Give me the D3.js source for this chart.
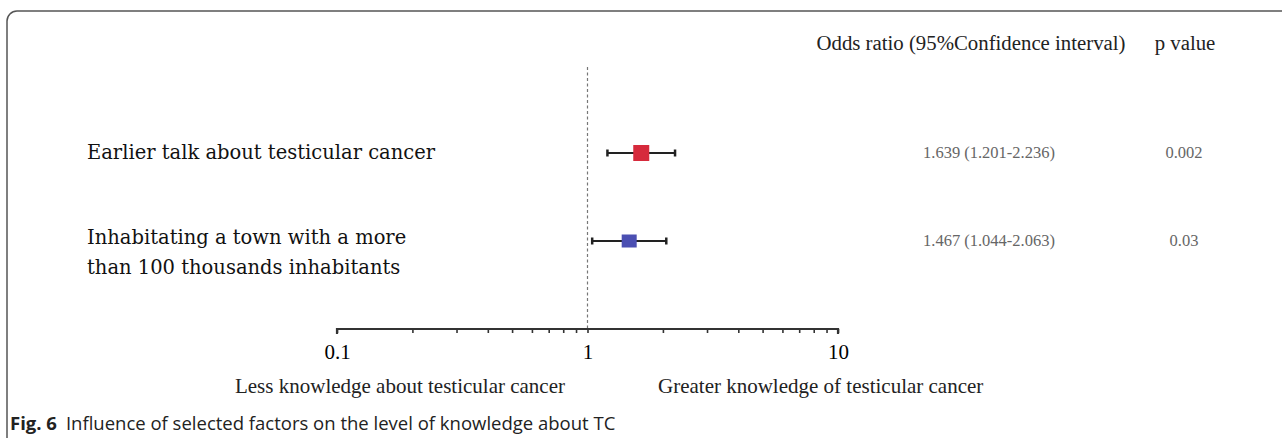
<!DOCTYPE html>
<html>

<head>
  <title>Forest plot</title>
  <script src="https://cdn.jsdelivr.net/npm/d3@7"></script>
  <style>
    body { margin: 0; background: #fff; }
  </style>
</head>

<body>
  <svg width="1282" height="438" id="mainsvg"></svg>
  <script>
    // data
    const factorLines = [
      ['Earlier talk about testicular cancer'],
      ['Inhabitating a town with a more', 'than 100 thousands inhabitants']
    ];
    const oddsRatios = [1.639, 1.467];
    const ciLower = [1.201, 1.044];
    const ciUpper = [2.236, 2.063];
    const pValues = ['0.002', '0.03'];
    const markerColors = ['#d62a3c', '#4b4fb2'];

    const svg = d3.select('#mainsvg');
    const width = +svg.attr('width');
    const height = +svg.attr('height');

    // figure frame (top + left edge with rounded corner)
    svg.append('path')
      .attr('d', `M7,${height} V21 A10,10 0 0 1 17,11 H${width}`)
      .attr('fill', 'none')
      .attr('stroke', '#555')
      .attr('stroke-width', 1.5);

    const xScale = d3.scaleLog()
      .domain([0.1, 10])
      .range([337, 838]);

    const yScale = d3.scalePoint()
      .domain(d3.range(oddsRatios.length))
      .range([153, 241]);

    const axisY = 329;
    const serif = '"Liberation Serif", "Times New Roman", serif';
    const rowFont = '"DejaVu Serif", serif';

    // reference line at OR = 1
    svg.append('line')
      .attr('x1', xScale(1)).attr('x2', xScale(1))
      .attr('y1', 67).attr('y2', axisY)
      .attr('stroke', '#777')
      .attr('stroke-width', 1.2)
      .attr('stroke-dasharray', '3,2.5');

    // log axis, minor ticks hanging below
    const isDecade = d => Math.abs(Math.log10(d) - Math.round(Math.log10(d))) < 1e-9;
    const xAxis = d3.axisBottom(xScale)
      .tickValues(xScale.ticks())
      .tickSize(4)
      .tickPadding(11)
      .tickFormat(d => isDecade(d) ? d3.format('~g')(d) : '');
    const xAxisGroup = svg.append('g')
      .attr('transform', `translate(0, ${axisY})`)
      .call(xAxis);
    xAxisGroup.select('.domain')
      .attr('d', `M${xScale(0.1)},5V0H${xScale(10)}V5`)
      .attr('stroke', '#333')
      .attr('stroke-width', 2.2);
    xAxisGroup.selectAll('.tick line')
      .attr('stroke', '#333')
      .attr('stroke-width', 1.6);
    xAxisGroup.selectAll('.tick text')
      .attr('font-family', serif)
      .attr('font-size', 21)
      .attr('fill', '#000');

    // row labels
    const rows = svg.append('g');
    factorLines.forEach((lines, i) => {
      const t = rows.append('text')
        .attr('x', 87)
        .attr('y', yScale(i) + (lines.length > 1 ? 3 : 6))
        .attr('font-family', rowFont)
        .attr('font-size', 19.5)
        .attr('fill', '#111');
      lines.forEach((line, j) => {
        t.append('tspan')
          .attr('x', 87)
          .attr('dy', j === 0 ? 0 : 30)
          .text(line);
      });
    });

    // confidence intervals
    const ci = svg.append('g');
    ci.selectAll('.whisker').data(oddsRatios)
      .join('line')
      .attr('class', 'whisker')
      .attr('x1', (d, i) => xScale(ciLower[i]))
      .attr('x2', (d, i) => xScale(ciUpper[i]))
      .attr('y1', (d, i) => yScale(i))
      .attr('y2', (d, i) => yScale(i))
      .attr('stroke', '#222')
      .attr('stroke-width', 2);
    [ciLower, ciUpper].forEach(bound => {
      ci.selectAll(null).data(bound)
        .join('line')
        .attr('x1', d => xScale(d))
        .attr('x2', d => xScale(d))
        .attr('y1', (d, i) => yScale(i) - 3.5)
        .attr('y2', (d, i) => yScale(i) + 3.5)
        .attr('stroke', '#222')
        .attr('stroke-width', 2.5);
    });

    // point estimates
    const markerW = [16, 15];
    const markerH = [16, 13];
    ci.selectAll('.marker').data(oddsRatios)
      .join('rect')
      .attr('class', 'marker')
      .attr('x', (d, i) => xScale(d) - markerW[i] / 2)
      .attr('y', (d, i) => yScale(i) - markerH[i] / 2)
      .attr('width', (d, i) => markerW[i])
      .attr('height', (d, i) => markerH[i])
      .attr('fill', (d, i) => markerColors[i]);

    // right-hand table
    svg.append('text')
      .attr('x', 971).attr('y', 50)
      .attr('text-anchor', 'middle')
      .attr('font-family', serif)
      .attr('font-size', 20.8)
      .attr('fill', '#222')
      .text('Odds ratio (95%Confidence interval)');
    svg.append('text')
      .attr('x', 1185).attr('y', 50)
      .attr('text-anchor', 'middle')
      .attr('font-family', serif)
      .attr('font-size', 20.8)
      .attr('fill', '#222')
      .text('p value');

    const fmt = d3.format('.3f');
    svg.append('g').selectAll('text').data(oddsRatios)
      .join('text')
      .attr('x', 989)
      .attr('y', (d, i) => yScale(i) + 5)
      .attr('text-anchor', 'middle')
      .attr('font-family', serif)
      .attr('font-size', 16.5)
      .attr('fill', '#666')
      .text((d, i) => `${fmt(d)} (${fmt(ciLower[i])}-${fmt(ciUpper[i])})`);
    svg.append('g').selectAll('text').data(pValues)
      .join('text')
      .attr('x', 1184)
      .attr('y', (d, i) => yScale(i) + 5)
      .attr('text-anchor', 'middle')
      .attr('font-family', serif)
      .attr('font-size', 16.5)
      .attr('fill', '#666')
      .text(d => d);

    // direction labels
    svg.append('text')
      .attr('x', 400).attr('y', 393)
      .attr('text-anchor', 'middle')
      .attr('font-family', serif)
      .attr('font-size', 21)
      .attr('fill', '#222')
      .text('Less knowledge about testicular cancer');
    svg.append('text')
      .attr('x', 658).attr('y', 393)
      .attr('font-family', serif)
      .attr('font-size', 21)
      .attr('fill', '#222')
      .text('Greater knowledge of testicular cancer');

    // caption
    const cap = svg.append('text')
      .attr('x', 10).attr('y', 430)
      .attr('font-family', '"Open Sans", sans-serif')
      .attr('font-size', 18.5)
      .attr('fill', '#222');
    cap.append('tspan').attr('font-weight', 'bold').text('Fig. 6');
    cap.append('tspan').attr('dx', 9).text('Influence of selected factors on the level of knowledge about TC');
  </script>
</body>

</html>
